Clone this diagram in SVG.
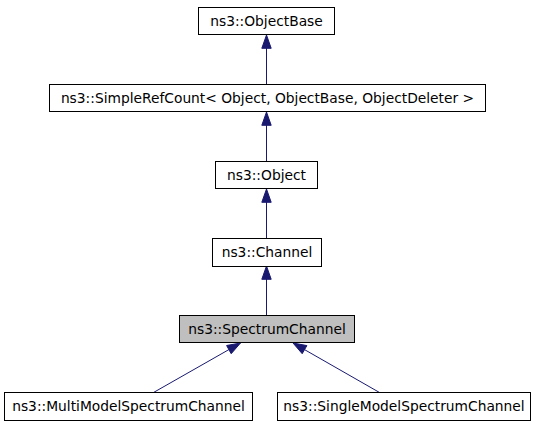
<svg xmlns="http://www.w3.org/2000/svg" width="536" height="427" viewBox="0 0 536 427">
<style>
.box{fill:#ffffff;stroke:#000000;stroke-width:1}
.cur{fill:#bfbfbf;stroke:#000000;stroke-width:1}
.lbl{font-family:"DejaVu Sans",sans-serif;font-size:13.8px;fill:#000000;text-anchor:middle}
.edge{stroke:#191970;stroke-width:1;fill:none}
.head{fill:#191970;stroke:#191970;stroke-width:1}
</style>
<rect width="536" height="427" fill="#ffffff"/>
<g id="edges">
<path class="edge" d="M266.5,84.5 V48"/>
<polygon class="head" points="266.5,35 271.2,48.3 261.8,48.3"/>
<path class="edge" d="M266.5,161.5 V125"/>
<polygon class="head" points="266.5,112 271.2,125.3 261.8,125.3"/>
<path class="edge" d="M266.5,238.5 V202"/>
<polygon class="head" points="266.5,189 271.2,202.3 261.8,202.3"/>
<path class="edge" d="M266.5,315.5 V279"/>
<polygon class="head" points="266.5,266 271.2,279.3 261.8,279.3"/>
<path class="edge" d="M153.5,392.5 L228.9,349.6"/>
<polygon class="head" points="240.5,343 231.2,353.7 226.6,345.5"/>
<path class="edge" d="M379.5,392.5 L304.5,349.6"/>
<polygon class="head" points="293,343 306.9,345.6 302.2,353.7"/>
</g>
<g id="node-objectbase">
<rect class="box" x="198.5" y="7.5" width="136" height="27"/>
<text class="lbl" x="266.5" y="25.5">ns3::ObjectBase</text>
</g>
<g id="node-simplerefcount">
<rect class="box" x="49.5" y="84.5" width="436" height="27"/>
<text class="lbl" x="267.5" y="102.5">ns3::SimpleRefCount&lt; Object, ObjectBase, ObjectDeleter &gt;</text>
</g>
<g id="node-object">
<rect class="box" x="215.5" y="161.5" width="102" height="27"/>
<text class="lbl" x="266.5" y="179.5">ns3::Object</text>
</g>
<g id="node-channel">
<rect class="box" x="212.5" y="238.5" width="109" height="28"/>
<text class="lbl" x="267" y="257">ns3::Channel</text>
</g>
<g id="node-spectrumchannel">
<rect class="cur" x="179.5" y="315.5" width="175" height="27"/>
<text class="lbl" x="267" y="333.5">ns3::SpectrumChannel</text>
</g>
<g id="node-multimodel">
<rect class="box" x="4.5" y="392.5" width="248" height="28"/>
<text class="lbl" x="128.5" y="411">ns3::MultiModelSpectrumChannel</text>
</g>
<g id="node-singlemodel">
<rect class="box" x="277.5" y="392.5" width="253" height="28"/>
<text class="lbl" x="404" y="411">ns3::SingleModelSpectrumChannel</text>
</g>
</svg>
